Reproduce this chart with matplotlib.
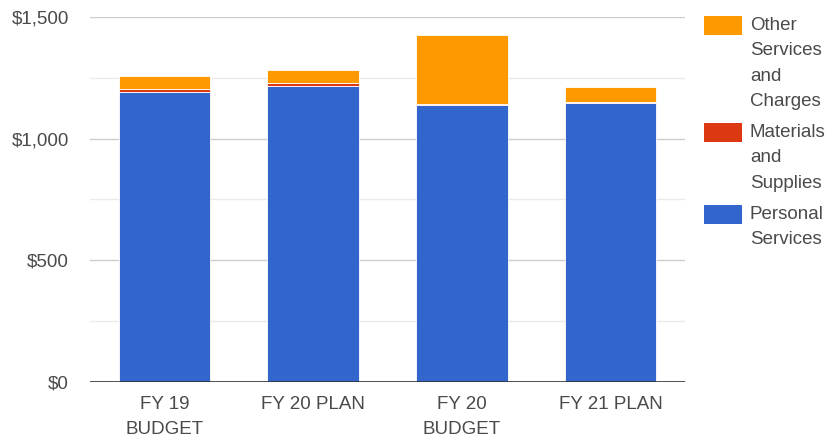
import matplotlib
matplotlib.use("Agg")
import matplotlib.pyplot as plt
from matplotlib.patches import Rectangle
import numpy as np

plt.rcParams['font.family'] = ['Liberation Sans', 'DejaVu Sans']

categories = ["FY 19\nBUDGET", "FY 20 PLAN", "FY 20\nBUDGET", "FY 21 PLAN"]
personal_services = [1190, 1216, 1138, 1145]
materials_supplies = [14, 12, 6, 6]
other_services = [53, 54, 282, 60]

series = [
    ("Personal\nServices", personal_services, "#3366cc"),
    ("Materials\nand\nSupplies", materials_supplies, "#dc3912"),
    ("Other\nServices\nand\nCharges", other_services, "#ff9900"),
]

W, H = 829, 440
fig = plt.figure(figsize=(W / 100, H / 100), dpi=100)
ax = fig.add_axes([90 / W, (H - 382) / H, (685 - 90) / W, (382 - 17) / H])

x = np.arange(len(categories))
bottom = np.zeros(len(categories))
for name, vals, col in series:
    ax.bar(x, vals, width=0.615, bottom=bottom, color=col,
           edgecolor="white", linewidth=0.6, zorder=3)
    bottom += np.array(vals)

ax.set_xlim(-0.5, len(categories) - 0.5)
ax.set_ylim(0, 1500)
ax.set_yticks([0, 500, 1000, 1500])
ax.set_yticklabels(["$0", "$500", "$1,000", "$1,500"])
ax.set_yticks([250, 750, 1250], minor=True)
ax.grid(axis="y", which="major", color="#cccccc", linewidth=1, zorder=0)
ax.grid(axis="y", which="minor", color="#ebebeb", linewidth=1, zorder=0)
ax.axhline(0, color="#333333", linewidth=1.2, zorder=4)

ax.set_xticks(x)
ax.set_xticklabels(categories, linespacing=1.6)
ax.tick_params(axis="both", which="both", length=0, labelsize=13.5,
               colors="#4a4a4a")
ax.tick_params(axis="y", pad=15)
ax.tick_params(axis="x", pad=10)
for s in ax.spines.values():
    s.set_visible(False)

# legend on the right, top to bottom
legend_items = [series[2], series[1], series[0]]
y_tops = [16, 123, 205]
for (name, vals, col), yt in zip(legend_items, y_tops):
    fig.patches.append(Rectangle((704 / W, 1 - (yt + 19) / H), 38 / W, 19 / H,
                                 transform=fig.transFigure, facecolor=col,
                                 edgecolor="none"))
    fig.text(750 / W, 1 - (yt + 1) / H, name, ha="left", va="top",
             fontsize=13.5, color="#4a4a4a", linespacing=1.64)

fig.savefig("out.png", dpi=100)
